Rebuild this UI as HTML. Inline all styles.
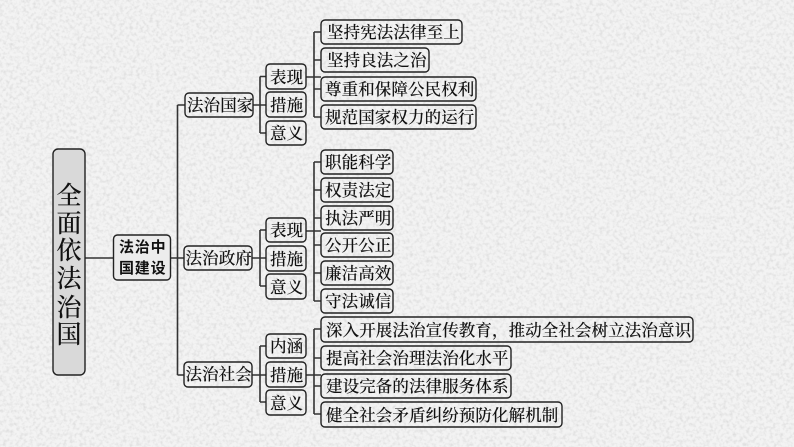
<!DOCTYPE html>
<html lang="zh-CN">
<head>
<meta charset="utf-8">
<title>全面依法治国</title>
<style>
html,body{margin:0;padding:0;background:#efefef;}
svg{display:block;}
.b{fill:none;stroke:#222;stroke-width:1.4;}
.c{fill:none;stroke:#333;stroke-width:1.6;}
text{font-family:"Noto Serif CJK SC","Noto Serif CJK",serif;font-size:16.5px;font-weight:500;fill:#111;letter-spacing:.1px;stroke:#111;stroke-width:.1px;}
.h{font-family:"Noto Sans CJK SC",sans-serif;font-size:15px;font-weight:700;letter-spacing:.8px;fill:#111;stroke:none;}
.r{font-family:"Noto Serif CJK SC",serif;font-size:25px;font-weight:500;text-anchor:middle;letter-spacing:0;fill:#111;}
</style>
</head>
<body>
<svg width="794" height="447" viewBox="0 0 794 447" xmlns="http://www.w3.org/2000/svg">
<defs>
<filter id="p" x="0" y="0" width="100%" height="100%">
<feTurbulence type="fractalNoise" baseFrequency=".3" numOctaves="2" seed="7"/>
<feColorMatrix type="matrix" values="0 0 0 0 .55  0 0 0 0 .55  0 0 0 0 .55  2 0 0 0 -.85"/>
</filter>
</defs>
<rect width="794" height="447" fill="#f3f3f3"/>
<rect width="794" height="447" filter="url(#p)" opacity=".5"/>

<!-- connectors -->
<path class="c" d="M85 258H113M170 258H184M177.5 105V375M177.5 105H185M177.5 375H184"/>
<path class="c" d="M253 105H266M260 76.500V133M260 76.500H266M260 133H266"/>
<path class="c" d="M306 77H321M314 32V117M314 32H321M314 60H321M314 89H321M314 117H321"/>
<path class="c" d="M252 258H266M260 230V286M260 230H266M260 286H266"/>
<path class="c" d="M306 231H321M314 162V301M314 162H321M314 190H321M314 218H321M314 245H321M314 273H321M314 301H321"/>
<path class="c" d="M252 375H266M260 346V402M260 346H266M260 402H266"/>
<path class="c" d="M306 375H321M314 329V414M314 329H321M314 358H321M314 386H321M314 414H321"/>

<!-- root -->
<rect class="b" x="53" y="149" width="32" height="226" rx="5" style="fill:#d9d9d9"/>
<text class="r" x="69" y="204">全</text>
<text class="r" x="69" y="232">面</text>
<text class="r" x="69" y="259">依</text>
<text class="r" x="69" y="287">法</text>
<text class="r" x="69" y="316">治</text>
<text class="r" x="69" y="343">国</text>

<!-- level 1 -->
<rect class="b" x="113.500" y="235" width="57" height="45" rx="4" style="fill:#ececec"/>
<text class="h" x="119" y="252">法治中</text>
<text class="h" x="119" y="273">国建设</text>

<!-- level 2 -->
<rect class="b" x="185" y="93" width="68" height="24" rx="4"/>
<text x="187" y="111">法治国家</text>
<rect class="b" x="184" y="246" width="68" height="24" rx="4"/>
<text x="185.500" y="264">法治政府</text>
<rect class="b" x="184" y="362" width="68" height="25" rx="4"/>
<text x="185.500" y="380">法治社会</text>

<!-- group 1 level 3 -->
<rect class="b" x="266" y="64" width="40" height="25" rx="4"/>
<text x="270" y="83">表现</text>
<rect class="b" x="266" y="92" width="40" height="25" rx="4"/>
<text x="270" y="111">措施</text>
<rect class="b" x="266" y="121" width="40" height="24" rx="4"/>
<text x="270" y="139">意义</text>

<!-- group 1 level 4 -->
<rect class="b" x="321" y="20" width="141" height="24" rx="4"/>
<text x="327" y="38">坚持宪法法律至上</text>
<rect class="b" x="321" y="48" width="108" height="24" rx="4"/>
<text x="327" y="66">坚持良法之治</text>
<rect class="b" x="321" y="77" width="155" height="24" rx="4"/>
<text x="325" y="95">尊重和保障公民权利</text>
<rect class="b" x="321" y="105" width="155" height="24" rx="4"/>
<text x="325" y="123">规范国家权力的运行</text>

<!-- group 2 level 3 -->
<rect class="b" x="266" y="218" width="40" height="24" rx="4"/>
<text x="270" y="236">表现</text>
<rect class="b" x="266" y="246" width="40" height="25" rx="4"/>
<text x="270" y="265">措施</text>
<rect class="b" x="266" y="274" width="40" height="25" rx="4"/>
<text x="270" y="293">意义</text>

<!-- group 2 level 4 -->
<rect class="b" x="321" y="150" width="72" height="24" rx="4"/>
<text x="325" y="168">职能科学</text>
<rect class="b" x="321" y="178" width="72" height="24" rx="4"/>
<text x="325" y="196">权责法定</text>
<rect class="b" x="321" y="206" width="72" height="24" rx="4"/>
<text x="325" y="224">执法严明</text>
<rect class="b" x="321" y="233" width="72" height="24" rx="4"/>
<text x="325" y="251">公开公正</text>
<rect class="b" x="321" y="261" width="72" height="24" rx="4"/>
<text x="325" y="279">廉洁高效</text>
<rect class="b" x="321" y="289" width="72" height="24" rx="4"/>
<text x="325" y="307">守法诚信</text>

<!-- group 3 level 3 -->
<rect class="b" x="266" y="334" width="40" height="24" rx="4"/>
<text x="270" y="352">内涵</text>
<rect class="b" x="266" y="362" width="40" height="25" rx="4"/>
<text x="270" y="381">措施</text>
<rect class="b" x="266" y="390" width="40" height="25" rx="4"/>
<text x="270" y="409">意义</text>

<!-- group 3 level 4 -->
<rect class="b" x="321" y="317" width="372" height="25" rx="4"/>
<text x="326" y="336">深入开展法治宣传教育，推动全社会树立法治意识</text>
<rect class="b" x="321" y="346" width="190" height="24" rx="4"/>
<text x="326" y="364">提高社会治理法治化水平</text>
<rect class="b" x="321" y="374" width="190" height="24" rx="4"/>
<text x="326" y="392">建设完备的法律服务体系</text>
<rect class="b" x="321" y="402" width="241" height="25" rx="4"/>
<text x="326" y="421">健全社会矛盾纠纷预防化解机制</text>
</svg>
</body>
</html>
